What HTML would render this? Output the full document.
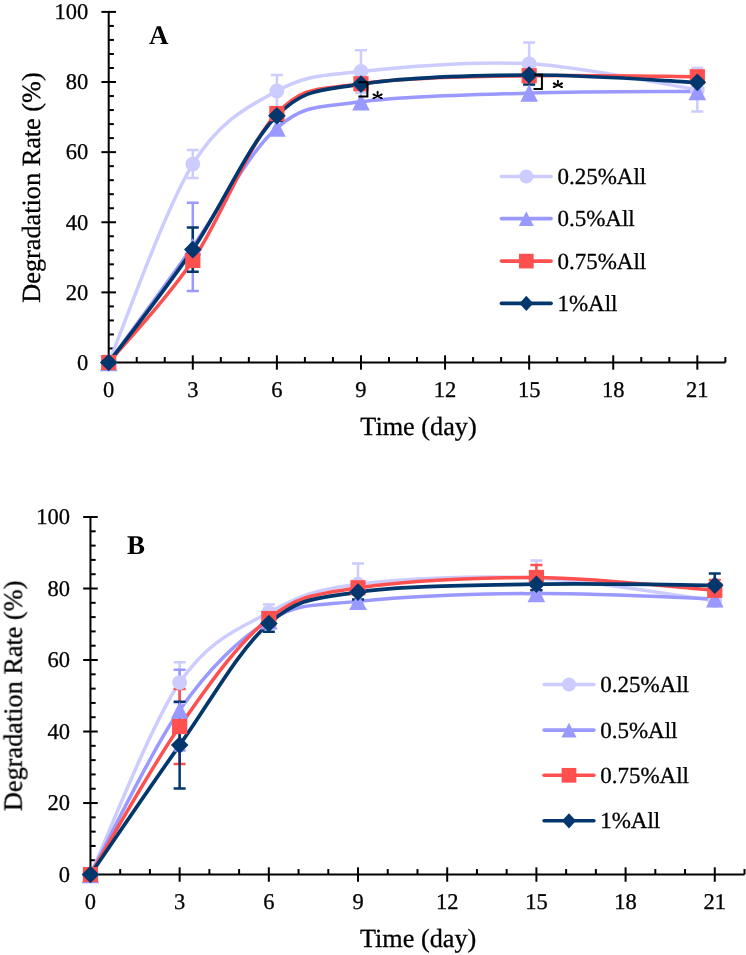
<!DOCTYPE html>
<html><head><meta charset="utf-8"><style>
html,body{margin:0;padding:0;background:#fff;}
body{width:746px;height:955px;overflow:hidden;font-family:"Liberation Serif",serif;}
svg{display:block;}
</style></head><body>
<svg style="will-change:transform" width="746" height="955" viewBox="0 0 746 955">
<rect width="746" height="955" fill="#fff"/>
<defs><filter id="gs" filterUnits="userSpaceOnUse" x="0" y="0" width="746" height="955"><feOffset dx="0" dy="0"/></filter></defs>
<g filter="url(#gs)" text-rendering="geometricPrecision">
<g stroke="#000" stroke-width="2" fill="none">
<path d="M108.70,11.90 V362.50 H725.36"/>
<path d="M101.40,362.50 H116.00"/>
<path d="M108.70,348.48 H113.90"/>
<path d="M108.70,334.45 H113.90"/>
<path d="M108.70,320.43 H113.90"/>
<path d="M108.70,306.40 H113.90"/>
<path d="M101.40,292.38 H116.00"/>
<path d="M108.70,278.36 H113.90"/>
<path d="M108.70,264.33 H113.90"/>
<path d="M108.70,250.31 H113.90"/>
<path d="M108.70,236.28 H113.90"/>
<path d="M101.40,222.26 H116.00"/>
<path d="M108.70,208.24 H113.90"/>
<path d="M108.70,194.21 H113.90"/>
<path d="M108.70,180.19 H113.90"/>
<path d="M108.70,166.16 H113.90"/>
<path d="M101.40,152.14 H116.00"/>
<path d="M108.70,138.12 H113.90"/>
<path d="M108.70,124.09 H113.90"/>
<path d="M108.70,110.07 H113.90"/>
<path d="M108.70,96.04 H113.90"/>
<path d="M101.40,82.02 H116.00"/>
<path d="M108.70,68.00 H113.90"/>
<path d="M108.70,53.97 H113.90"/>
<path d="M108.70,39.95 H113.90"/>
<path d="M108.70,25.92 H113.90"/>
<path d="M101.40,11.90 H116.00"/>
<path d="M108.70,355.30 V369.70"/>
<path d="M136.73,357.00 V362.50"/>
<path d="M164.76,357.00 V362.50"/>
<path d="M192.79,355.30 V369.70"/>
<path d="M220.82,357.00 V362.50"/>
<path d="M248.85,357.00 V362.50"/>
<path d="M276.88,355.30 V369.70"/>
<path d="M304.91,357.00 V362.50"/>
<path d="M332.94,357.00 V362.50"/>
<path d="M360.97,355.30 V369.70"/>
<path d="M389.00,357.00 V362.50"/>
<path d="M417.03,357.00 V362.50"/>
<path d="M445.06,355.30 V369.70"/>
<path d="M473.09,357.00 V362.50"/>
<path d="M501.12,357.00 V362.50"/>
<path d="M529.15,355.30 V369.70"/>
<path d="M557.18,357.00 V362.50"/>
<path d="M585.21,357.00 V362.50"/>
<path d="M613.24,355.30 V369.70"/>
<path d="M641.27,357.00 V362.50"/>
<path d="M669.30,357.00 V362.50"/>
<path d="M697.33,355.30 V369.70"/>
<path d="M725.36,357.00 V362.50"/>
</g>
<g font-family="Liberation Serif" font-size="22.5" fill="#000" stroke="#000" stroke-width="0.3">
<text x="88.30" y="369.80" text-anchor="end">0</text>
<text x="88.30" y="299.68" text-anchor="end">20</text>
<text x="88.30" y="229.56" text-anchor="end">40</text>
<text x="88.30" y="159.44" text-anchor="end">60</text>
<text x="88.30" y="89.32" text-anchor="end">80</text>
<text x="88.30" y="19.20" text-anchor="end">100</text>
<text x="108.70" y="397.30" text-anchor="middle">0</text>
<text x="192.79" y="397.30" text-anchor="middle">3</text>
<text x="276.88" y="397.30" text-anchor="middle">6</text>
<text x="360.97" y="397.30" text-anchor="middle">9</text>
<text x="445.06" y="397.30" text-anchor="middle">12</text>
<text x="529.15" y="397.30" text-anchor="middle">15</text>
<text x="613.24" y="397.30" text-anchor="middle">18</text>
<text x="697.33" y="397.30" text-anchor="middle">21</text>
</g>
<text x="418.50" y="434.60" text-anchor="middle" font-family="Liberation Serif" font-size="26.25" stroke="#000" stroke-width="0.3">Time (day)</text>
<text transform="translate(39.80,187.50) rotate(-90)" text-anchor="middle" font-family="Liberation Serif" font-size="26.25" stroke="#000" stroke-width="0.3">Degradation Rate (%)</text>
<text x="149.00" y="44.00" font-family="Liberation Serif" font-weight="bold" font-size="27">A</text>
<path d="M108.70,362.50 C122.72,329.43 164.76,209.31 192.79,164.06 C220.82,118.81 248.85,106.42 276.88,91.00 C304.91,75.57 318.93,76.04 360.97,71.50 C403.02,66.97 473.09,60.75 529.15,63.79 C585.21,66.83 669.30,85.41 697.33,89.73" fill="none" stroke="#CCCCFF" stroke-width="3.5" stroke-linecap="round" stroke-linejoin="round"/>
<path d="M108.70,362.50 C122.72,343.22 164.76,285.89 192.79,246.80 C220.82,207.71 248.85,152.11 276.88,127.95 C304.91,103.79 318.93,107.64 360.97,101.83 C403.02,96.01 473.09,94.79 529.15,93.06 C585.21,91.34 669.30,91.75 697.33,91.49" fill="none" stroke="#9999FF" stroke-width="3.5" stroke-linecap="round" stroke-linejoin="round"/>
<path d="M108.70,362.50 C122.72,345.50 164.76,301.96 192.79,260.48 C220.82,218.99 248.85,143.02 276.88,113.57 C304.91,84.12 318.93,90.08 360.97,83.77 C403.02,77.46 473.09,76.88 529.15,75.71 C585.21,74.54 669.30,76.59 697.33,76.76" fill="none" stroke="#FF5050" stroke-width="3.5" stroke-linecap="round" stroke-linejoin="round"/>
<path d="M108.70,362.50 C122.72,343.68 164.76,290.74 192.79,249.61 C220.82,208.47 248.85,143.26 276.88,115.68 C304.91,88.10 318.93,90.90 360.97,84.12 C403.02,77.35 473.09,75.30 529.15,75.01 C585.21,74.72 669.30,81.14 697.33,82.37" fill="none" stroke="#02376E" stroke-width="3.7" stroke-linecap="round" stroke-linejoin="round"/>
<path d="M192.79,150.04 V178.08 M186.79,150.04 H198.79 M186.79,178.08 H198.79" stroke="#CCCCFF" stroke-width="2.5" fill="none"/>
<path d="M276.88,75.11 V106.88 M270.88,75.11 H282.88 M270.88,106.88 H282.88" stroke="#CCCCFF" stroke-width="2.5" fill="none"/>
<path d="M360.97,50.29 V92.71 M354.97,50.29 H366.97 M354.97,92.71 H366.97" stroke="#CCCCFF" stroke-width="2.5" fill="none"/>
<path d="M529.15,42.58 V85.00 M523.15,42.58 H535.15 M523.15,85.00 H535.15" stroke="#CCCCFF" stroke-width="2.5" fill="none"/>
<path d="M697.33,68.00 V111.47 M691.33,68.00 H703.33 M691.33,111.47 H703.33" stroke="#CCCCFF" stroke-width="2.5" fill="none"/>
<path d="M192.79,202.63 V290.98 M186.79,202.63 H198.79 M186.79,290.98 H198.79" stroke="#9999FF" stroke-width="2.5" fill="none"/>
<path d="M192.79,255.22 V265.73 M186.79,255.22 H198.79 M186.79,265.73 H198.79" stroke="#FF5050" stroke-width="2.5" fill="none"/>
<path d="M276.88,110.07 V117.08 M270.88,110.07 H282.88 M270.88,117.08 H282.88" stroke="#FF5050" stroke-width="2.5" fill="none"/>
<path d="M360.97,80.27 V87.28 M354.97,80.27 H366.97 M354.97,87.28 H366.97" stroke="#FF5050" stroke-width="2.5" fill="none"/>
<path d="M529.15,72.20 V79.22 M523.15,72.20 H535.15 M523.15,79.22 H535.15" stroke="#FF5050" stroke-width="2.5" fill="none"/>
<path d="M697.33,73.25 V80.27 M691.33,73.25 H703.33 M691.33,80.27 H703.33" stroke="#FF5050" stroke-width="2.5" fill="none"/>
<path d="M192.79,227.52 V271.69 M186.79,227.52 H198.79 M186.79,271.69 H198.79" stroke="#02376E" stroke-width="2.5" fill="none"/>
<path d="M276.88,110.42 V120.94 M270.88,110.42 H282.88 M270.88,120.94 H282.88" stroke="#02376E" stroke-width="2.5" fill="none"/>
<path d="M360.97,78.86 V89.38 M354.97,78.86 H366.97 M354.97,89.38 H366.97" stroke="#02376E" stroke-width="2.5" fill="none"/>
<path d="M529.15,65.54 V84.47 M523.15,65.54 H535.15 M523.15,84.47 H535.15" stroke="#02376E" stroke-width="2.5" fill="none"/>
<path d="M697.33,77.11 V87.63 M691.33,77.11 H703.33 M691.33,87.63 H703.33" stroke="#02376E" stroke-width="2.5" fill="none"/>
<circle cx="108.70" cy="362.50" r="7.40" fill="#CCCCFF"/>
<circle cx="192.79" cy="164.06" r="7.40" fill="#CCCCFF"/>
<circle cx="276.88" cy="91.00" r="7.40" fill="#CCCCFF"/>
<circle cx="360.97" cy="71.50" r="7.40" fill="#CCCCFF"/>
<circle cx="529.15" cy="63.79" r="7.40" fill="#CCCCFF"/>
<circle cx="697.33" cy="89.73" r="7.40" fill="#CCCCFF"/>
<path d="M108.70,353.80 L117.50,371.20 L99.90,371.20 Z" fill="#9999FF"/>
<path d="M192.79,238.10 L201.59,255.50 L183.99,255.50 Z" fill="#9999FF"/>
<path d="M276.88,119.25 L285.68,136.65 L268.08,136.65 Z" fill="#9999FF"/>
<path d="M360.97,93.13 L369.77,110.53 L352.17,110.53 Z" fill="#9999FF"/>
<path d="M529.15,84.36 L537.95,101.76 L520.35,101.76 Z" fill="#9999FF"/>
<path d="M697.33,82.79 L706.13,100.19 L688.53,100.19 Z" fill="#9999FF"/>
<rect x="101.10" y="354.90" width="15.20" height="15.20" fill="#FF5050"/>
<rect x="185.19" y="252.88" width="15.20" height="15.20" fill="#FF5050"/>
<rect x="269.28" y="105.97" width="15.20" height="15.20" fill="#FF5050"/>
<rect x="353.37" y="76.17" width="15.20" height="15.20" fill="#FF5050"/>
<rect x="521.55" y="68.11" width="15.20" height="15.20" fill="#FF5050"/>
<rect x="689.73" y="69.16" width="15.20" height="15.20" fill="#FF5050"/>
<path d="M108.70,353.70 L117.50,362.50 L108.70,371.30 L99.90,362.50 Z" fill="#02376E"/>
<path d="M192.79,240.81 L201.59,249.61 L192.79,258.41 L183.99,249.61 Z" fill="#02376E"/>
<path d="M276.88,106.88 L285.68,115.68 L276.88,124.48 L268.08,115.68 Z" fill="#02376E"/>
<path d="M360.97,75.32 L369.77,84.12 L360.97,92.92 L352.17,84.12 Z" fill="#02376E"/>
<path d="M529.15,66.21 L537.95,75.01 L529.15,83.81 L520.35,75.01 Z" fill="#02376E"/>
<path d="M697.33,73.57 L706.13,82.37 L697.33,91.17 L688.53,82.37 Z" fill="#02376E"/>
<path d="M501.40,176.50 H551.10" stroke="#CCCCFF" stroke-width="3.6" stroke-linecap="round"/>
<circle cx="526.30" cy="176.50" r="7.00" fill="#CCCCFF"/>
<text x="557.40" y="184.30" font-family="Liberation Serif" font-size="23" stroke="#000" stroke-width="0.3">0.25%All</text>
<path d="M501.40,218.60 H551.10" stroke="#9999FF" stroke-width="3.6" stroke-linecap="round"/>
<path d="M526.30,211.15 L533.80,226.05 L518.80,226.05 Z" fill="#9999FF"/>
<text x="557.40" y="226.40" font-family="Liberation Serif" font-size="23" stroke="#000" stroke-width="0.3">0.5%All</text>
<path d="M501.40,261.10 H551.10" stroke="#FF5050" stroke-width="3.6" stroke-linecap="round"/>
<rect x="518.95" y="253.75" width="14.70" height="14.70" fill="#FF5050"/>
<text x="557.40" y="268.90" font-family="Liberation Serif" font-size="23" stroke="#000" stroke-width="0.3">0.75%All</text>
<path d="M501.40,303.40 H551.10" stroke="#02376E" stroke-width="3.6" stroke-linecap="round"/>
<path d="M526.30,295.80 L533.30,303.40 L526.30,311.00 L519.30,303.40 Z" fill="#02376E"/>
<text x="557.40" y="311.20" font-family="Liberation Serif" font-size="23" stroke="#000" stroke-width="0.3">1%All</text>
<path d="M358.2,82.2 H367.4 V96.4 H358.4" stroke="#000" stroke-width="2" fill="none"/>
<path d="M534.2,74.7 H541.9 V88.9 H533.5" stroke="#000" stroke-width="2" fill="none"/>
<g stroke="#000" stroke-width="1.5" stroke-linecap="round" fill="#000">
<path d="M377.60,96.30 L377.60,91.60"/>
<circle cx="377.60" cy="92.63" r="1.05" stroke="none"/>
<path d="M377.60,96.30 L373.20,94.30"/>
<circle cx="374.17" cy="94.74" r="1.05" stroke="none"/>
<path d="M377.60,96.30 L382.00,94.30"/>
<circle cx="381.03" cy="94.74" r="1.05" stroke="none"/>
<path d="M377.60,96.30 L373.20,98.40"/>
<circle cx="374.17" cy="97.94" r="1.05" stroke="none"/>
<path d="M377.60,96.30 L382.00,98.40"/>
<circle cx="381.03" cy="97.94" r="1.05" stroke="none"/>
</g>
<g stroke="#000" stroke-width="1.5" stroke-linecap="round" fill="#000">
<path d="M557.90,85.20 L557.90,80.50"/>
<circle cx="557.90" cy="81.53" r="1.05" stroke="none"/>
<path d="M557.90,85.20 L553.50,83.20"/>
<circle cx="554.47" cy="83.64" r="1.05" stroke="none"/>
<path d="M557.90,85.20 L562.30,83.20"/>
<circle cx="561.33" cy="83.64" r="1.05" stroke="none"/>
<path d="M557.90,85.20 L553.50,87.30"/>
<circle cx="554.47" cy="86.84" r="1.05" stroke="none"/>
<path d="M557.90,85.20 L562.30,87.30"/>
<circle cx="561.33" cy="86.84" r="1.05" stroke="none"/>
</g>
<g stroke="#000" stroke-width="2" fill="none">
<path d="M90.45,517.00 V874.55 H744.51"/>
<path d="M83.15,874.55 H97.75"/>
<path d="M90.45,860.25 H95.65"/>
<path d="M90.45,845.95 H95.65"/>
<path d="M90.45,831.64 H95.65"/>
<path d="M90.45,817.34 H95.65"/>
<path d="M83.15,803.04 H97.75"/>
<path d="M90.45,788.74 H95.65"/>
<path d="M90.45,774.44 H95.65"/>
<path d="M90.45,760.13 H95.65"/>
<path d="M90.45,745.83 H95.65"/>
<path d="M83.15,731.53 H97.75"/>
<path d="M90.45,717.23 H95.65"/>
<path d="M90.45,702.93 H95.65"/>
<path d="M90.45,688.62 H95.65"/>
<path d="M90.45,674.32 H95.65"/>
<path d="M83.15,660.02 H97.75"/>
<path d="M90.45,645.72 H95.65"/>
<path d="M90.45,631.42 H95.65"/>
<path d="M90.45,617.11 H95.65"/>
<path d="M90.45,602.81 H95.65"/>
<path d="M83.15,588.51 H97.75"/>
<path d="M90.45,574.21 H95.65"/>
<path d="M90.45,559.91 H95.65"/>
<path d="M90.45,545.60 H95.65"/>
<path d="M90.45,531.30 H95.65"/>
<path d="M83.15,517.00 H97.75"/>
<path d="M90.45,867.35 V881.75"/>
<path d="M120.18,869.05 V874.55"/>
<path d="M149.91,869.05 V874.55"/>
<path d="M179.64,867.35 V881.75"/>
<path d="M209.37,869.05 V874.55"/>
<path d="M239.10,869.05 V874.55"/>
<path d="M268.83,867.35 V881.75"/>
<path d="M298.56,869.05 V874.55"/>
<path d="M328.29,869.05 V874.55"/>
<path d="M358.02,867.35 V881.75"/>
<path d="M387.75,869.05 V874.55"/>
<path d="M417.48,869.05 V874.55"/>
<path d="M447.21,867.35 V881.75"/>
<path d="M476.94,869.05 V874.55"/>
<path d="M506.67,869.05 V874.55"/>
<path d="M536.40,867.35 V881.75"/>
<path d="M566.13,869.05 V874.55"/>
<path d="M595.86,869.05 V874.55"/>
<path d="M625.59,867.35 V881.75"/>
<path d="M655.32,869.05 V874.55"/>
<path d="M685.05,869.05 V874.55"/>
<path d="M714.78,867.35 V881.75"/>
<path d="M744.51,869.05 V874.55"/>
</g>
<g font-family="Liberation Serif" font-size="22.5" fill="#000" stroke="#000" stroke-width="0.3">
<text x="70.00" y="881.85" text-anchor="end">0</text>
<text x="70.00" y="810.34" text-anchor="end">20</text>
<text x="70.00" y="738.83" text-anchor="end">40</text>
<text x="70.00" y="667.32" text-anchor="end">60</text>
<text x="70.00" y="595.81" text-anchor="end">80</text>
<text x="70.00" y="524.30" text-anchor="end">100</text>
<text x="90.45" y="909.00" text-anchor="middle">0</text>
<text x="179.64" y="909.00" text-anchor="middle">3</text>
<text x="268.83" y="909.00" text-anchor="middle">6</text>
<text x="358.02" y="909.00" text-anchor="middle">9</text>
<text x="447.21" y="909.00" text-anchor="middle">12</text>
<text x="536.40" y="909.00" text-anchor="middle">15</text>
<text x="625.59" y="909.00" text-anchor="middle">18</text>
<text x="714.78" y="909.00" text-anchor="middle">21</text>
</g>
<text x="418.10" y="947.00" text-anchor="middle" font-family="Liberation Serif" font-size="26.25" stroke="#000" stroke-width="0.3">Time (day)</text>
<text transform="translate(21.70,695.80) rotate(-90)" text-anchor="middle" font-family="Liberation Serif" font-size="26.25" stroke="#000" stroke-width="0.3">Degradation Rate (%)</text>
<text x="127.00" y="553.80" font-family="Liberation Serif" font-weight="bold" font-size="27">B</text>
<path d="M90.45,874.55 C105.31,842.55 149.91,726.23 179.64,682.55 C209.37,638.86 239.10,628.85 268.83,612.47 C298.56,596.08 313.42,589.94 358.02,584.22 C402.62,578.50 476.94,575.40 536.40,578.14 C595.86,580.88 685.05,596.91 714.78,600.67" fill="none" stroke="#CCCCFF" stroke-width="3.5" stroke-linecap="round" stroke-linejoin="round"/>
<path d="M90.45,874.55 C105.31,847.14 149.91,752.39 179.64,710.08 C209.37,667.77 239.10,638.81 268.83,620.69 C298.56,602.57 313.42,605.91 358.02,601.38 C402.62,596.85 476.94,593.93 536.40,593.52 C595.86,593.10 685.05,597.99 714.78,598.88" fill="none" stroke="#9999FF" stroke-width="3.5" stroke-linecap="round" stroke-linejoin="round"/>
<path d="M90.45,874.55 C105.31,849.88 149.91,769.19 179.64,726.52 C209.37,683.86 239.10,641.67 268.83,618.54 C298.56,595.42 313.42,594.65 358.02,587.79 C402.62,580.94 476.94,577.01 536.40,577.43 C595.86,577.84 685.05,588.15 714.78,590.30" fill="none" stroke="#FF5050" stroke-width="3.5" stroke-linecap="round" stroke-linejoin="round"/>
<path d="M90.45,874.55 C105.31,852.98 149.91,786.95 179.64,745.12 C209.37,703.28 239.10,649.06 268.83,623.55 C298.56,598.04 313.42,598.64 358.02,592.09 C402.62,585.53 476.94,585.35 536.40,584.22 C595.86,583.09 685.05,585.11 714.78,585.29" fill="none" stroke="#02376E" stroke-width="3.7" stroke-linecap="round" stroke-linejoin="round"/>
<path d="M179.64,662.17 V702.93 M173.64,662.17 H185.64 M173.64,702.93 H185.64" stroke="#CCCCFF" stroke-width="2.5" fill="none"/>
<path d="M268.83,604.60 V620.33 M262.83,604.60 H274.83 M262.83,620.33 H274.83" stroke="#CCCCFF" stroke-width="2.5" fill="none"/>
<path d="M358.02,563.48 V604.96 M352.02,563.48 H364.02 M352.02,604.96 H364.02" stroke="#CCCCFF" stroke-width="2.5" fill="none"/>
<path d="M536.40,560.62 V595.66 M530.40,560.62 H542.40 M530.40,595.66 H542.40" stroke="#CCCCFF" stroke-width="2.5" fill="none"/>
<path d="M714.78,595.30 V606.03 M708.78,595.30 H720.78 M708.78,606.03 H720.78" stroke="#CCCCFF" stroke-width="2.5" fill="none"/>
<path d="M179.64,669.67 V750.48 M173.64,669.67 H185.64 M173.64,750.48 H185.64" stroke="#9999FF" stroke-width="2.5" fill="none"/>
<path d="M179.64,688.98 V764.07 M173.64,688.98 H185.64 M173.64,764.07 H185.64" stroke="#FF5050" stroke-width="2.5" fill="none"/>
<path d="M268.83,613.18 V623.91 M262.83,613.18 H274.83 M262.83,623.91 H274.83" stroke="#FF5050" stroke-width="2.5" fill="none"/>
<path d="M358.02,582.43 V593.16 M352.02,582.43 H364.02 M352.02,593.16 H364.02" stroke="#FF5050" stroke-width="2.5" fill="none"/>
<path d="M536.40,564.91 V589.94 M530.40,564.91 H542.40 M530.40,589.94 H542.40" stroke="#FF5050" stroke-width="2.5" fill="none"/>
<path d="M714.78,579.93 V600.67 M708.78,579.93 H720.78 M708.78,600.67 H720.78" stroke="#FF5050" stroke-width="2.5" fill="none"/>
<path d="M179.64,701.85 V788.38 M173.64,701.85 H185.64 M173.64,788.38 H185.64" stroke="#02376E" stroke-width="2.5" fill="none"/>
<path d="M268.83,615.33 V631.77 M262.83,615.33 H274.83 M262.83,631.77 H274.83" stroke="#02376E" stroke-width="2.5" fill="none"/>
<path d="M358.02,584.58 V599.59 M352.02,584.58 H364.02 M352.02,599.59 H364.02" stroke="#02376E" stroke-width="2.5" fill="none"/>
<path d="M536.40,578.14 V590.30 M530.40,578.14 H542.40 M530.40,590.30 H542.40" stroke="#02376E" stroke-width="2.5" fill="none"/>
<path d="M714.78,573.49 V597.09 M708.78,573.49 H720.78 M708.78,597.09 H720.78" stroke="#02376E" stroke-width="2.5" fill="none"/>
<circle cx="90.45" cy="874.55" r="7.40" fill="#CCCCFF"/>
<circle cx="179.64" cy="682.55" r="7.40" fill="#CCCCFF"/>
<circle cx="268.83" cy="612.47" r="7.40" fill="#CCCCFF"/>
<circle cx="358.02" cy="584.22" r="7.40" fill="#CCCCFF"/>
<circle cx="536.40" cy="578.14" r="7.40" fill="#CCCCFF"/>
<circle cx="714.78" cy="600.67" r="7.40" fill="#CCCCFF"/>
<path d="M90.45,865.85 L99.25,883.25 L81.65,883.25 Z" fill="#9999FF"/>
<path d="M179.64,701.38 L188.44,718.78 L170.84,718.78 Z" fill="#9999FF"/>
<path d="M268.83,611.99 L277.63,629.39 L260.03,629.39 Z" fill="#9999FF"/>
<path d="M358.02,592.68 L366.82,610.08 L349.22,610.08 Z" fill="#9999FF"/>
<path d="M536.40,584.82 L545.20,602.22 L527.60,602.22 Z" fill="#9999FF"/>
<path d="M714.78,590.18 L723.58,607.58 L705.98,607.58 Z" fill="#9999FF"/>
<rect x="82.85" y="866.95" width="15.20" height="15.20" fill="#FF5050"/>
<rect x="172.04" y="718.92" width="15.20" height="15.20" fill="#FF5050"/>
<rect x="261.23" y="610.94" width="15.20" height="15.20" fill="#FF5050"/>
<rect x="350.42" y="580.19" width="15.20" height="15.20" fill="#FF5050"/>
<rect x="528.80" y="569.83" width="15.20" height="15.20" fill="#FF5050"/>
<rect x="707.18" y="582.70" width="15.20" height="15.20" fill="#FF5050"/>
<path d="M90.45,865.75 L99.25,874.55 L90.45,883.35 L81.65,874.55 Z" fill="#02376E"/>
<path d="M179.64,736.32 L188.44,745.12 L179.64,753.92 L170.84,745.12 Z" fill="#02376E"/>
<path d="M268.83,614.75 L277.63,623.55 L268.83,632.35 L260.03,623.55 Z" fill="#02376E"/>
<path d="M358.02,583.29 L366.82,592.09 L358.02,600.89 L349.22,592.09 Z" fill="#02376E"/>
<path d="M536.40,575.42 L545.20,584.22 L536.40,593.02 L527.60,584.22 Z" fill="#02376E"/>
<path d="M714.78,576.49 L723.58,585.29 L714.78,594.09 L705.98,585.29 Z" fill="#02376E"/>
<path d="M544.10,684.50 H593.90" stroke="#CCCCFF" stroke-width="3.6" stroke-linecap="round"/>
<circle cx="569.00" cy="684.50" r="7.00" fill="#CCCCFF"/>
<text x="600.20" y="692.00" font-family="Liberation Serif" font-size="23" stroke="#000" stroke-width="0.3">0.25%All</text>
<path d="M544.10,730.10 H593.90" stroke="#9999FF" stroke-width="3.6" stroke-linecap="round"/>
<path d="M569.00,722.65 L576.50,737.55 L561.50,737.55 Z" fill="#9999FF"/>
<text x="600.20" y="737.60" font-family="Liberation Serif" font-size="23" stroke="#000" stroke-width="0.3">0.5%All</text>
<path d="M544.10,775.30 H593.90" stroke="#FF5050" stroke-width="3.6" stroke-linecap="round"/>
<rect x="561.65" y="767.95" width="14.70" height="14.70" fill="#FF5050"/>
<text x="600.20" y="782.80" font-family="Liberation Serif" font-size="23" stroke="#000" stroke-width="0.3">0.75%All</text>
<path d="M544.10,820.80 H593.90" stroke="#02376E" stroke-width="3.6" stroke-linecap="round"/>
<path d="M569.00,813.20 L576.00,820.80 L569.00,828.40 L562.00,820.80 Z" fill="#02376E"/>
<text x="600.20" y="828.30" font-family="Liberation Serif" font-size="23" stroke="#000" stroke-width="0.3">1%All</text>
</g>
</svg>
</body></html>
